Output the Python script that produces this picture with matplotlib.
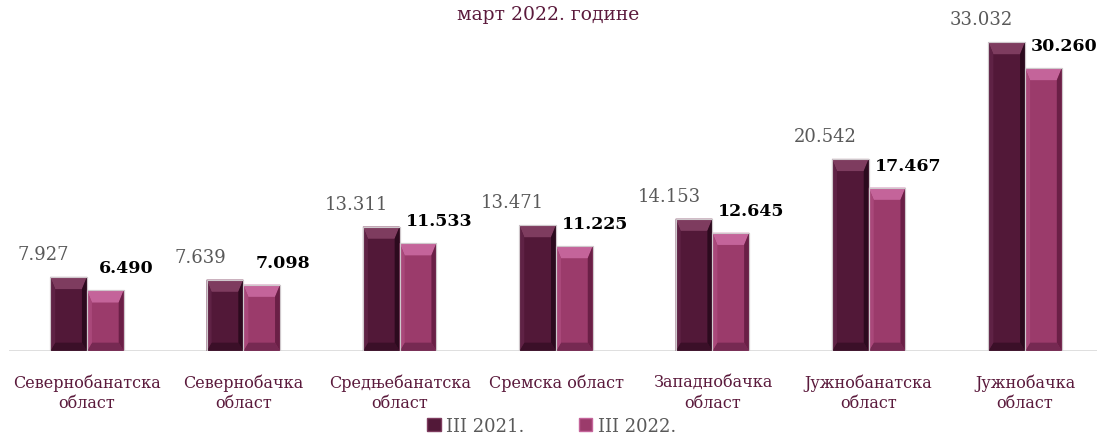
import numpy as np
import matplotlib.pyplot as plt
from matplotlib.patches import Polygon, Patch

plt.rcParams['font.family'] = ['DejaVu Serif']

regions = ['Севернобанатска\nобласт', 'Севернобачка\nобласт', 'Средњебанатска\nобласт',
           'Сремска област', 'Западнобачка\nобласт', 'Јужнобанатска\nобласт', 'Јужнобачка\nобласт']
march_2021 = [7.927, 7.639, 13.311, 13.471, 14.153, 20.542, 33.032]
march_2022 = [6.490, 7.098, 11.533, 11.225, 12.645, 17.467, 30.260]
series_names = ['III 2021.', 'III 2022.']

# face, top bevel, bottom bevel, left edge, right edge
dark_shades = ['#521838', '#7e3c5f', '#3b0f28', '#5f2245', '#2c0a1e']
pink_shades = ['#9b3b6b', '#c4649a', '#762952', '#a9487a', '#6a1f46']
text_purple = '#5b1a3c'


def fmt(v):
    return '{:.3f}'.format(v)


def bevel_bar(ax, x0, w, h, shades):
    # flat bar with four bevelled edges drawn as polygons
    bx = 0.032
    by_top = min(1.3, h * 0.3)
    by_bot = min(0.9, h * 0.2)
    face, top, bot, left, right = shades
    ax.add_patch(Polygon([(x0, 0), (x0 + w, 0), (x0 + w, h), (x0, h)],
                         closed=True, facecolor=face, edgecolor='#c9c2c6', lw=0.8, zorder=2))
    ax.add_patch(Polygon([(x0, h), (x0 + w, h), (x0 + w - bx, h - by_top), (x0 + bx, h - by_top)],
                         closed=True, facecolor=top, edgecolor='none', zorder=3))
    ax.add_patch(Polygon([(x0, 0), (x0 + w, 0), (x0 + w - bx, by_bot), (x0 + bx, by_bot)],
                         closed=True, facecolor=bot, edgecolor='none', zorder=3))
    ax.add_patch(Polygon([(x0, 0), (x0 + bx, by_bot), (x0 + bx, h - by_top), (x0, h)],
                         closed=True, facecolor=left, edgecolor='none', zorder=3))
    ax.add_patch(Polygon([(x0 + w, 0), (x0 + w - bx, by_bot), (x0 + w - bx, h - by_top), (x0 + w, h)],
                         closed=True, facecolor=right, edgecolor='none', zorder=3))
    ax.add_patch(Polygon([(x0, 0), (x0 + w, 0), (x0 + w, h), (x0, h)],
                         closed=True, facecolor='none', edgecolor='#cfc8cc', lw=0.8, zorder=4))


fig = plt.figure(figsize=(10.97, 4.39), dpi=100)
ax = fig.add_axes([0.008, 0.198, 0.992, 0.7335])

x = np.arange(len(regions))
w = 0.235
for i in range(len(regions)):
    bevel_bar(ax, x[i] - w, w, march_2021[i], dark_shades)
    bevel_bar(ax, x[i], w, march_2022[i], pink_shades)
    ax.annotate(fmt(march_2021[i]), (x[i] - w / 2, march_2021[i]), xytext=(-18, 10),
                textcoords='offset points', ha='center', va='bottom',
                fontsize=13, color='#595959')
    ax.annotate(fmt(march_2022[i]), (x[i] + w / 2, march_2022[i]), xytext=(15, 10),
                textcoords='offset points', ha='center', va='bottom',
                fontsize=12.5, fontweight='bold', color='black')

ax.set_xlim(-0.5, 6.46)
ax.set_ylim(0, 34.42)
ax.axhline(0, color='#d9d9d9', lw=1.2, zorder=1)
ax.set_xticks(x)
ax.set_xticklabels(regions, fontsize=11.5, color=text_purple, linespacing=1.25)
ax.tick_params(axis='x', length=0, pad=16)
ax.set_yticks([])
for s in ax.spines.values():
    s.set_visible(False)

fig.text(0.5, 0.965, 'март 2022. године', ha='center', va='center',
         fontsize=13.5, color=text_purple)

handles = [Patch(facecolor=dark_shades[0], edgecolor=dark_shades[1]),
           Patch(facecolor=pink_shades[0], edgecolor=pink_shades[1])]
fig.legend(handles, series_names, loc='center', bbox_to_anchor=(0.503, 0.027),
           ncol=2, frameon=False, fontsize=13, handlelength=0.75, handleheight=0.75,
           handletextpad=0.3, columnspacing=3.0, labelcolor='#595959')

fig.savefig('out.png', dpi=100)
